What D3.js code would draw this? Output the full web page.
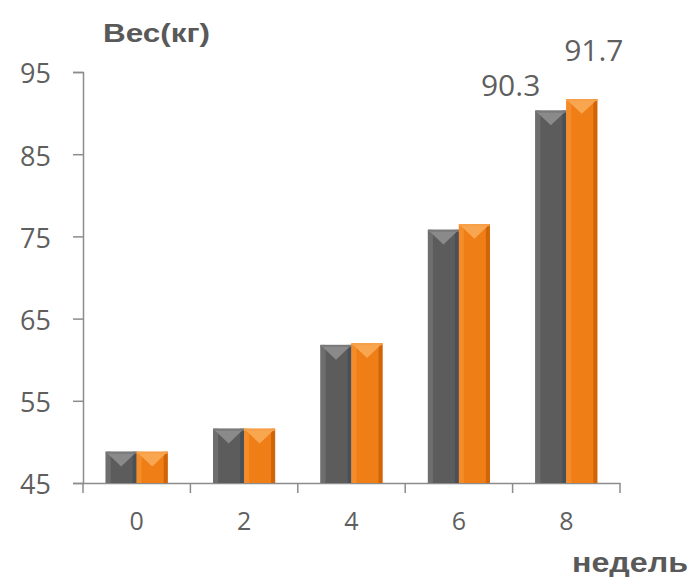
<!DOCTYPE html>
<html><head><meta charset="utf-8">
<script src="https://cdn.jsdelivr.net/npm/d3@7"></script>
<style>body{margin:0;background:#fff}svg{display:block}</style>
</head><body>
<svg id="c" width="690" height="577"></svg>
<script>
const categories = ["0","2","4","6","8"];
const seriesA = [48.8, 51.6, 61.8, 75.8, 90.3];
const seriesB = [48.8, 51.6, 62.0, 76.5, 91.7];
const yTicks = [45, 55, 65, 75, 85, 95];
const labelA = [null, null, null, null, "90.3"];
const labelB = [null, null, null, null, "91.7"];

(function(){
const svg = d3.select("#c");
const mLeft = 83, mRight = 620, mTop = 72, mBottom = 483;
const x = d3.scaleBand().domain(categories).range([mLeft, mRight]).paddingInner(0).paddingOuter(0);
const y = d3.scaleLinear().domain([45, 95]).range([mBottom, mTop]);
const bw = 31;
const txt = "#5f5f5f";

const ya = svg.append("g").attr("transform", `translate(${mLeft},0)`)
  .call(d3.axisLeft(y).tickValues(yTicks).tickSize(10).tickPadding(22));
ya.select(".domain").attr("stroke", "#8c8c8c").attr("stroke-width", 1.5);
ya.selectAll(".tick line").attr("stroke", "#8c8c8c").attr("stroke-width", 1.5);
ya.selectAll("text").attr("fill", txt).attr("dy", "0.4em").style("font-family", "Open Sans, sans-serif").style("font-size", "27px");

const xa = svg.append("g").attr("transform", `translate(0,${mBottom})`)
  .call(d3.axisBottom(x).tickSize(0).tickPadding(29));
xa.select(".domain").attr("stroke", "#8c8c8c").attr("stroke-width", 1.5);
xa.selectAll(".tick line").remove();
xa.selectAll("text").attr("fill", txt).style("font-family", "Open Sans, sans-serif").style("font-size", "25px");
const bounds = categories.map(c => x(c)).concat([x(categories[categories.length-1]) + x.bandwidth()]);
svg.append("g").selectAll("line").data(bounds).join("line")
  .attr("x1", d => d).attr("x2", d => d).attr("y1", mBottom).attr("y2", mBottom + 10)
  .attr("stroke", "#8c8c8c").attr("stroke-width", 1.5);

function drawBar(g, x0, val, cols) {
  const yt = y(val), h = mBottom - yt;
  g.append("rect").attr("x", x0).attr("y", yt).attr("width", bw).attr("height", h).attr("fill", cols.body);
  g.append("rect").attr("x", x0).attr("y", yt).attr("width", 5).attr("height", h).attr("fill", cols.left);
  g.append("rect").attr("x", x0 + bw - 4).attr("y", yt).attr("width", 4).attr("height", h).attr("fill", cols.right);
  const d = Math.min(bw * 0.5, h);
  g.append("path").attr("d", `M${x0},${yt}L${x0+bw},${yt}L${x0+bw/2},${yt+d*0.95}Z`).attr("fill", cols.top);
  g.append("rect").attr("x", x0).attr("y", yt).attr("width", bw).attr("height", 2).attr("fill", cols.edge);
}
const grayC = {body:"#5c5c5c", left:"#6e6e6e", right:"#4a5058", top:"#8a8a8a", edge:"#7a7a7a"};
const orC = {body:"#f07e16", left:"#f48c2a", right:"#cf6508", top:"#f9a650", edge:"#f6a04a"};

const bars = svg.append("g");
categories.forEach((c, i) => {
  const cx = x(c) + x.bandwidth()/2;
  drawBar(bars, cx - bw, seriesA[i], grayC);
  drawBar(bars, cx, seriesB[i], orC);
  if (labelA[i]) svg.append("text").attr("x", cx - bw + 5).attr("y", y(seriesA[i]) - 15)
    .attr("text-anchor", "end").attr("fill", txt).style("font-family", "Open Sans, sans-serif").style("font-size", "30px").text(labelA[i]);
  if (labelB[i]) svg.append("text").attr("x", cx + bw/2 + 12).attr("y", y(seriesB[i]) - 38)
    .attr("text-anchor", "middle").attr("fill", txt).style("font-family", "Open Sans, sans-serif").style("font-size", "30px").text(labelB[i]);
});

svg.append("text").attr("x", 103).attr("y", 42).attr("fill", "#595959")
  .attr("textLength", 107).attr("lengthAdjust", "spacingAndGlyphs")
  .style("font-family", "Liberation Sans, Arial, sans-serif").style("font-weight", "bold").style("font-size", "26px").text("Вес(кг)");
svg.append("text").attr("x", 572).attr("y", 572).attr("fill", "#595959")
  .attr("textLength", 116).attr("lengthAdjust", "spacingAndGlyphs")
  .style("font-family", "Liberation Sans, Arial, sans-serif").style("font-weight", "bold").style("font-size", "27px").text("недель");
})();
</script>
</body></html>
